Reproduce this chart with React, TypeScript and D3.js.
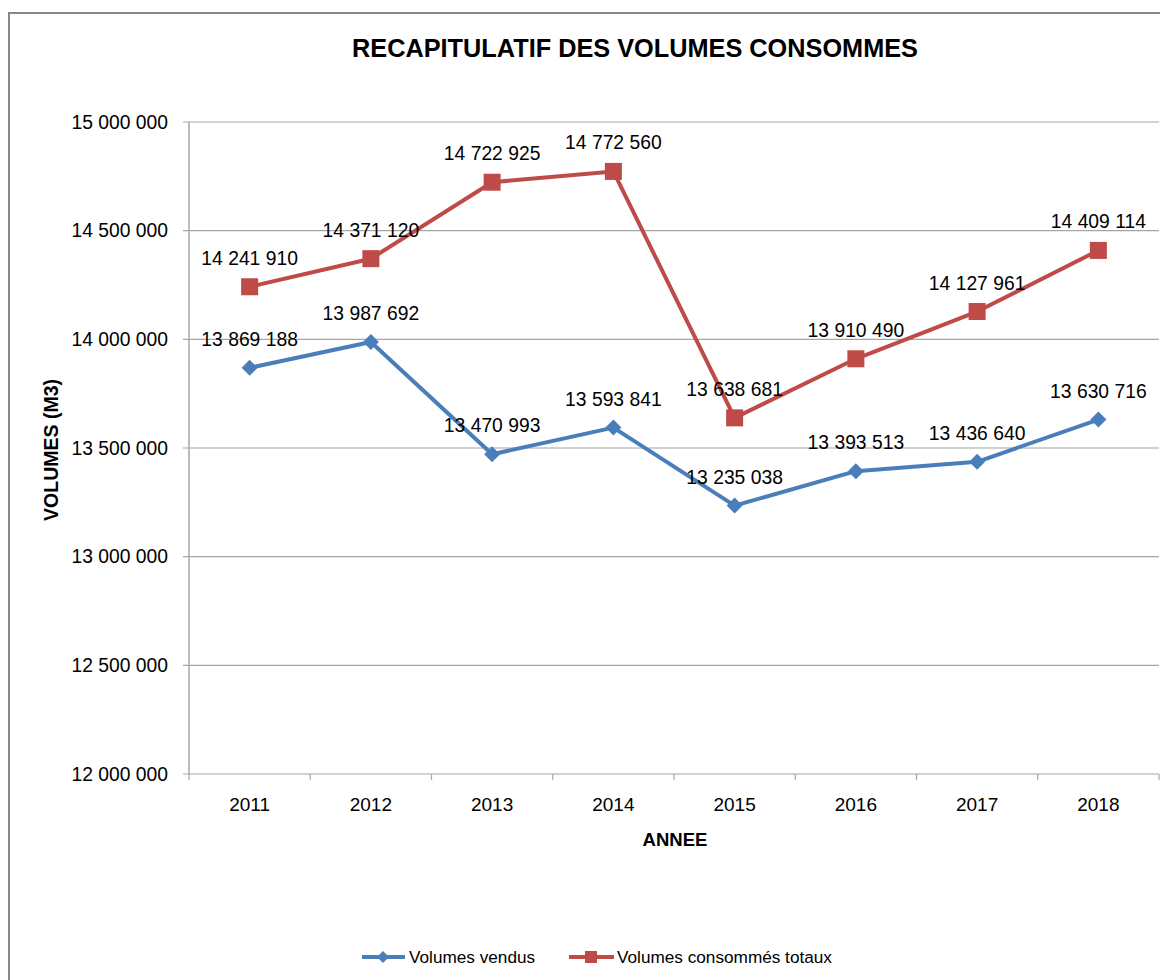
import React from "react";
import * as d3 from "d3";

const years = ["2011", "2012", "2013", "2014", "2015", "2016", "2017", "2018"];
const volumesVendus = [13869188, 13987692, 13470993, 13593841, 13235038, 13393513, 13436640, 13630716];
const volumesTotaux = [14241910, 14371120, 14722925, 14772560, 13638681, 13910490, 14127961, 14409114];
const yTicks = [12000000, 12500000, 13000000, 13500000, 14000000, 14500000, 15000000];
const seriesNames = ["Volumes vendus", "Volumes consommés totaux"];

const W = 1160;
const H = 980;
const FONT = "'Liberation Sans', Arial, sans-serif";
const BLUE = "#4A7EBB";
const RED = "#BE4B48";

const fmt = (v: number) => {
  const s = String(Math.round(v));
  return s.replace(/\B(?=(\d{3})+(?!\d))/g, " ");
};

export default function App() {
  const x = d3.scaleBand<string>().domain(years).range([189, 1159]).padding(0);
  const y = d3.scaleLinear().domain([12000000, 15000000]).range([774, 122]);
  const cx = (yr: string) => (x(yr) as number) + x.bandwidth() / 2;
  const line = d3
    .line<number>()
    .x((_, i) => cx(years[i]))
    .y((d) => y(d));

  const diamond = (px: number, py: number, r: number) =>
    `M${px},${py - r}L${px + r},${py}L${px},${py + r}L${px - r},${py}Z`;

  return (
    <svg
      width={W}
      height={H}
      style={{ position: "absolute", left: 0, top: 0, background: "#fff" }}
      fontFamily={FONT}
    >
      <rect x={0} y={0} width={W} height={H} fill="#fff" />
      <rect x={9} y={13} width={W + 20} height={H + 20} fill="none" stroke="#868686" strokeWidth={2} />

      <text x={635} y={57} textAnchor="middle" fontSize={25.3} fontWeight="bold" fill="#000">
        RECAPITULATIF DES VOLUMES CONSOMMES
      </text>

      {/* gridlines */}
      {yTicks.map((t) => (
        <g key={t}>
          <line x1={183} x2={1159} y1={y(t)} y2={y(t)} stroke="#a6a6a6" strokeWidth={1.2} />
          <text x={168} y={y(t) + 6.5} textAnchor="end" fontSize={19.3} fill="#000">
            {fmt(t)}
          </text>
        </g>
      ))}
      {/* y axis */}
      <line x1={189} x2={189} y1={122} y2={774} stroke="#a6a6a6" strokeWidth={1.5} />
      {/* x ticks */}
      {years.concat(["end"]).map((yr, i) => {
        const xx = i < years.length ? (x(yr) as number) : 1159;
        return <line key={yr} x1={xx} x2={xx} y1={774} y2={780} stroke="#a6a6a6" strokeWidth={1.2} />;
      })}
      {years.map((yr) => (
        <text key={yr} x={cx(yr)} y={811} textAnchor="middle" fontSize={19} fill="#000">
          {yr}
        </text>
      ))}

      <text x={675} y={846} textAnchor="middle" fontSize={18.5} fontWeight="bold" fill="#000">
        ANNEE
      </text>
      <text
        transform={`translate(58,450) rotate(-90)`}
        textAnchor="middle"
        fontSize={19.5}
        fontWeight="bold"
        fill="#000"
      >
        VOLUMES (M3)
      </text>

      {/* series */}
      <path d={line(volumesVendus) as string} fill="none" stroke={BLUE} strokeWidth={4} strokeLinejoin="round" />
      <path d={line(volumesTotaux) as string} fill="none" stroke={RED} strokeWidth={4} strokeLinejoin="round" />
      {volumesVendus.map((v, i) => (
        <path key={"b" + i} d={diamond(cx(years[i]), y(v), 8)} fill={BLUE} />
      ))}
      {volumesTotaux.map((v, i) => (
        <rect key={"r" + i} x={cx(years[i]) - 8.5} y={y(v) - 8.5} width={17} height={17} fill={RED} />
      ))}

      {/* data labels */}
      {volumesVendus.map((v, i) => (
        <text key={"lb" + i} x={cx(years[i])} y={y(v) - 22} textAnchor="middle" fontSize={19.3} fill="#000">
          {fmt(v)}
        </text>
      ))}
      {volumesTotaux.map((v, i) => (
        <text key={"lr" + i} x={cx(years[i])} y={y(v) - 22} textAnchor="middle" fontSize={19.3} fill="#000">
          {fmt(v)}
        </text>
      ))}

      {/* legend */}
      <line x1={362} x2={405} y1={957} y2={957} stroke={BLUE} strokeWidth={4} />
      <path d={diamond(383, 957, 6)} fill={BLUE} />
      <text x={409} y={963} fontSize={17.2} fill="#000">
        {seriesNames[0]}
      </text>
      <line x1={569} x2={614} y1={957} y2={957} stroke={RED} strokeWidth={4} />
      <rect x={585} y={951} width={12} height={12} fill={RED} />
      <text x={617} y={963} fontSize={17.2} fill="#000">
        {seriesNames[1]}
      </text>
    </svg>
  );
}
